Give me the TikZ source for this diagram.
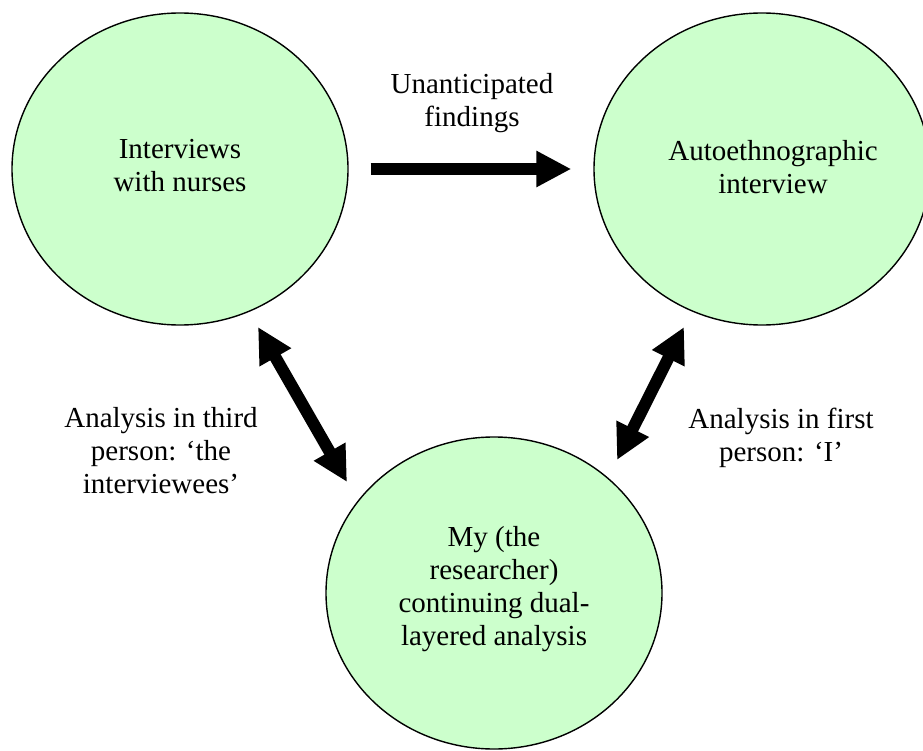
\documentclass[tikz,border=0pt]{standalone}
\usepackage{fontspec}
\setmainfont{Liberation Serif}
\usetikzlibrary{shapes.geometric,arrows.meta}
\definecolor{circfill}{RGB}{204,255,204}
\begin{document}
\begin{tikzpicture}[x=1pt,y=-1pt,
  bubble/.style={ellipse,draw=black,line width=1.4pt,fill=circfill,minimum width=336pt,minimum height=312pt,inner sep=0pt},
  txt/.style={align=center,font=\fontsize{29}{33}\selectfont,inner sep=0pt},
  fatarrow/.style={line width=12pt,-{Triangle[length=35pt,width=34pt]}},
  dblarrow/.style={line width=12pt,{Triangle[length=35pt,width=34pt]}-{Triangle[length=35pt,width=34pt]}}]
\useasboundingbox (0,0) rectangle (923,751);
\node[bubble] (L) at (180,169) {};
\node[bubble] (R) at (762,169) {};
\node[bubble] (B) at (494,593) {};
\node[txt] (Lt) at (180,166) {Interviews\\with nurses};
\node[txt] (Rt) at (773,167) {Autoethnographic\\interview};
\node[txt] (Bt) at (494,589) {My (the\\researcher)\\continuing dual-\\layered analysis};
\node[txt] (top) at (472,103) {Unanticipated\\findings};
\node[txt] (lab1) at (161,451) {Analysis in third\\person: ‘the\\interviewees’};
\node[txt] (lab2) at (781,438) {Analysis in first\\person: ‘I’};
\draw[fatarrow,shorten <=22pt,shorten >=22pt] (L) -- (R);
\coordinate (l1) at (258,327);
\coordinate (l2) at (347,482);
\coordinate (r1) at (684,327);
\coordinate (r2) at (617,460);
\draw[dblarrow] (l1) -- (l2);
\draw[dblarrow] (r1) -- (r2);
\end{tikzpicture}
\end{document}
